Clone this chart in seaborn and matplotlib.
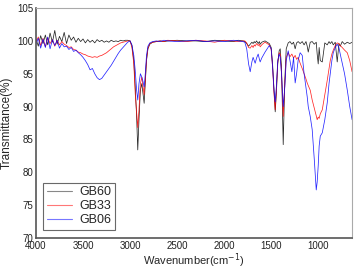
import matplotlib
matplotlib.use("Agg")
import matplotlib.pyplot as plt
import seaborn as sns
import pandas as pd

# wavenumbers (cm^-1), shared by all series
wavenumber = [
    4000, 3975, 3950, 3925, 3900, 3875, 3850, 3825, 3800, 3775, 3750, 3725, 3700,
    3675, 3650, 3625, 3600, 3575, 3550, 3525, 3500, 3475, 3450, 3425, 3400, 3375,
    3350, 3325, 3300, 3275, 3250, 3225, 3200, 3175, 3150, 3125, 3100,
    3075, 3050, 3025, 3000, 2980, 2960, 2945, 2930, 2918, 2905, 2890, 2875, 2862,
    2850, 2838, 2825, 2810, 2790, 2760, 2720, 2680, 2640, 2600, 2500, 2400, 2300,
    2200, 2100, 2000, 1900, 1850, 1800,
    1780, 1760, 1740, 1723, 1705, 1692, 1680, 1670, 1655, 1638, 1625, 1617, 1600,
    1585, 1565, 1543, 1520, 1500, 1485, 1470, 1457, 1445, 1430, 1415, 1404, 1390,
    1372, 1355, 1340, 1319, 1300, 1280, 1262, 1245, 1230, 1213, 1192, 1170, 1150,
    1130, 1117, 1106, 1085, 1064, 1042, 1021, 1011, 1000, 990, 978, 957, 930, 904,
    885, 872, 855, 840, 819, 798, 780, 766, 745, 720, 691, 665, 640,
]

gb60 = [
    100.3, 99.2, 100.8, 99.6, 100.9, 99.4, 101.2, 99.8, 101.6, 99.5, 100.7, 99.9, 101.3,
    99.6, 100.9, 100.1, 100.6, 99.8, 100.4, 99.9, 100.3, 99.7, 100.2, 99.8, 100.1, 99.7,
    100.2, 99.9, 100.1, 99.8, 100.0, 99.8, 100.1, 99.9, 100.0, 99.9, 100.1,
    100.0, 100.1, 100.1, 100.0, 99.3, 97.0, 93.0, 88.5, 83.4, 88.0, 92.5, 93.5, 92.0,
    90.5, 93.5, 97.0, 98.8, 99.5, 99.8, 99.9, 100.0, 99.9, 100.0, 100.1, 100.0, 100.0,
    99.9, 100.1, 100.0, 99.9, 100.1, 100.0,
    99.9, 99.6, 99.2, 99.5, 99.8, 99.6, 99.9, 99.7, 100.0, 99.6, 99.9, 99.5, 99.8,
    99.9, 100.0, 99.8, 99.6, 99.0, 96.5, 92.5, 89.2, 92.0, 96.5, 98.5, 98.8, 96.0,
    84.2, 94.0, 98.8, 99.7, 99.9, 99.5, 99.8, 98.8, 99.7, 99.9, 99.6, 99.9, 99.4,
    99.9, 99.2, 98.3, 99.8, 99.9, 99.5, 99.8, 98.0, 96.5, 99.0, 97.0, 96.8, 99.7, 99.4,
    99.9, 99.6, 99.9, 99.4, 99.8, 96.8, 99.6, 99.2, 99.9, 99.5, 99.8, 99.6, 99.8,
]

gb33 = [
    99.8, 100.6, 99.3, 100.4, 99.1, 100.5, 99.6, 100.2, 99.2, 100.1, 99.4, 99.9, 99.5,
    99.3, 99.0, 99.1, 98.7, 98.6, 98.3, 98.2, 98.0, 97.9, 97.7, 97.6, 97.5, 97.6,
    97.5, 97.7, 97.8, 98.0, 98.2, 98.5, 98.8, 99.1, 99.3, 99.5, 99.7,
    99.8, 99.9, 100.0, 100.0, 99.0, 96.5, 92.0, 89.0, 86.8, 89.5, 93.5, 94.5, 93.0,
    91.8, 94.0, 97.2, 98.9, 99.6, 99.8, 99.9, 100.0, 99.9, 100.1, 100.0, 99.9, 100.1,
    100.0, 99.8, 100.1, 100.0, 99.9, 100.0,
    100.0, 99.7, 99.0, 98.9, 99.3, 99.0, 99.4, 99.2, 99.6, 99.3, 99.5, 99.1, 99.4,
    99.6, 99.8, 99.6, 99.4, 98.7, 96.0, 92.0, 89.5, 92.5, 96.8, 98.2, 98.0, 95.0,
    88.5, 93.5, 97.5, 98.2, 97.6, 98.0, 97.4, 97.8, 97.2, 97.5, 96.6, 95.8, 95.0,
    94.2, 93.6, 93.2, 92.5, 91.0, 89.8, 88.6, 88.0, 88.4, 88.2, 88.9, 89.5, 91.8, 94.0,
    95.8, 97.0, 98.0, 98.6, 99.3, 99.7, 99.6, 99.3, 99.0, 98.6, 98.2, 97.0, 95.3,
]

gb06 = [
    99.5, 100.4, 98.9, 100.3, 99.0, 100.6, 98.8, 100.2, 99.3, 100.1, 98.9, 99.6, 99.1,
    99.2, 98.7, 99.0, 98.4, 98.6, 98.2, 97.9, 97.5, 97.0, 96.4, 95.6, 95.8, 95.0,
    94.4, 94.1, 94.3, 94.8, 95.3, 95.8, 96.3, 96.9, 97.5, 98.1, 98.6,
    99.0, 99.4, 99.8, 100.0, 99.4, 97.8, 95.5, 92.5, 91.0, 93.5, 95.0, 94.5, 93.8,
    93.0, 95.0, 97.8, 99.2, 99.7, 99.9, 100.0, 99.9, 100.1, 100.0, 99.9, 100.0, 100.1,
    99.9, 100.0, 99.9, 100.1, 100.0, 99.9,
    99.8, 98.8, 96.5, 95.3, 96.8, 97.5, 97.0, 96.6, 97.4, 98.0, 97.2, 96.8, 97.4,
    97.8, 98.3, 98.8, 99.3, 98.8, 96.0, 92.5, 90.7, 93.0, 97.0, 98.0, 97.5, 95.0,
    90.0, 93.0, 97.0, 98.5, 97.0, 95.3, 97.5, 93.6, 95.0, 97.1, 98.2, 97.8, 95.0,
    92.8, 91.5, 90.0, 88.5, 86.5, 82.0, 77.3, 78.5, 81.0, 84.0, 85.5, 86.0, 88.0, 90.6,
    93.5, 95.0, 97.0, 98.2, 99.0, 99.5, 99.0, 98.0, 96.6, 95.0, 92.5, 90.0, 88.0,
]

series_names = ["GB60", "GB33", "GB06"]
series_colors = ["#000000", "#ff0000", "#0000ff"]

df = pd.concat([
    pd.DataFrame({"wn": wavenumber, "T": vals, "sample": name})
    for name, vals in zip(series_names, [gb60, gb33, gb06])
], ignore_index=True)

sns.set_style("white")
plt.rcParams["font.family"] = ["Liberation Sans", "DejaVu Sans"]

fig = plt.figure(figsize=(3.56, 2.70), dpi=100)
ax = fig.add_axes([0.101, 0.119, 0.888, 0.851])

sns.lineplot(data=df, x="wn", y="T", hue="sample", hue_order=series_names,
             palette=dict(zip(series_names, series_colors)), sort=False,
             estimator=None, linewidth=0.55, alpha=0.85, ax=ax, legend=False)

ax.set_xlim(4000, 640)
ax.set_ylim(70, 105)
ax.set_xticks([4000, 3500, 3000, 2500, 2000, 1500, 1000])
ax.set_yticks([70, 75, 80, 85, 90, 95, 100, 105])
ax.tick_params(axis="both", labelsize=7, length=0, pad=2, colors="#222222")
ax.set_xlabel("Wavenumber(cm$^{-1}$)", fontsize=8, labelpad=0.5)
ax.set_ylabel("Transmittance(%)", fontsize=8.5, labelpad=3)

for side in ["left", "bottom"]:
    ax.spines[side].set_color("#555555")
    ax.spines[side].set_linewidth(1.2)
for side in ["top", "right"]:
    ax.spines[side].set_color("#aaaaaa")
    ax.spines[side].set_linewidth(0.8)

legend_colors = ["#888888", "#ff7777", "#7777ff"]
handles = [plt.Line2D([], [], color=c, linewidth=0.8) for c in legend_colors]
leg = ax.legend(handles, series_names, loc="lower left",
                bbox_to_anchor=(0.022, 0.035), borderaxespad=0, fontsize=9,
                handlelength=2.0, handletextpad=0.6, labelspacing=0.15,
                frameon=True, fancybox=False, borderpad=0.3)
leg.get_frame().set_edgecolor("#444444")
leg.get_frame().set_linewidth(0.8)

fig.savefig("out.png", dpi=100)
